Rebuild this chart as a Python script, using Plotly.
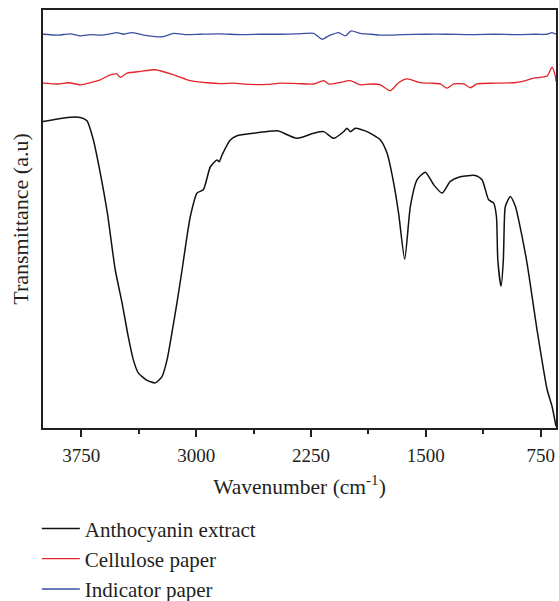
import plotly.graph_objects as go

# Anthocyanin extract (black)
wn_extract = [4000, 3841, 3756, 3713, 3671, 3626, 3580, 3528, 3484, 3443, 3410, 3378, 3321, 3267,
              3223, 3190, 3158, 3125, 3092, 3060, 3038, 2994, 2953, 2907, 2864, 2849, 2831, 2777,
              2733, 2627, 2472, 2450, 2341, 2233, 2167, 2102, 2037, 2015, 1993, 1960, 1884, 1797,
              1753, 1710, 1678, 1638, 1601, 1557, 1503, 1449, 1394, 1340, 1275, 1177, 1133, 1090,
              1057, 1039, 1030, 1009, 994, 987, 981, 948, 915, 894, 839, 774, 708, 676, 650]
t_extract = [73.3, 74.3, 74.3, 73.5, 68.9, 61.0, 51.5, 37.8, 30.0, 21.8, 16.3, 13.2, 11.4, 10.8,
             12.3, 16.3, 22.8, 30.0, 37.8, 45.8, 50.6, 56.2, 57.0, 62.5, 64.1, 63.7, 65.3, 68.9,
             69.9, 70.5, 71.1, 70.9, 69.3, 70.5, 70.9, 69.3, 70.9, 71.7, 70.9, 71.7, 70.9, 68.9,
             65.7, 58.6, 51.4, 40.4, 53.0, 59.4, 61.2, 58.2, 56.2, 59.0, 60.1, 60.4, 59.4, 54.6,
             53.8, 50.6, 40.2, 33.9, 40.2, 49.8, 53.0, 55.4, 53.0, 49.8, 39.4, 23.5, 9.2, 5.2, 0.4]

# Cellulose paper (red)
wn_cellulose = [4000, 3900, 3830, 3756, 3690, 3626, 3560, 3517, 3495, 3451, 3363, 3267, 3147, 3038,
                2929, 2840, 2757, 2650, 2537, 2450, 2340, 2233, 2167, 2135, 2069, 1993, 1928, 1860,
                1797, 1732, 1678, 1623, 1536, 1470, 1405, 1362, 1318, 1253, 1209, 1166, 1050, 927,
                860, 796, 708, 676, 654, 650]
t_cellulose = [82.5, 82.3, 82.6, 82.1, 82.6, 83.3, 84.5, 84.7, 83.9, 84.9, 85.3, 85.7, 84.5, 83.1,
               82.6, 82.4, 82.5, 82.2, 82.2, 82.5, 82.4, 82.3, 83.1, 82.3, 82.6, 83.1, 82.1, 82.3,
               82.1, 80.7, 82.6, 83.5, 82.6, 82.5, 82.3, 81.3, 82.3, 82.3, 81.4, 82.3, 82.5, 82.6,
               83.0, 83.7, 84.2, 86.3, 84.1, 82.9]

# Indicator paper (blue)
wn_indicator = [4000, 3900, 3820, 3756, 3690, 3626, 3560, 3517, 3474, 3419, 3343, 3223, 3147, 3060,
                2973, 2850, 2700, 2580, 2450, 2340, 2233, 2178, 2124, 2069, 2026, 1988, 1928, 1860,
                1797, 1650, 1500, 1362, 1200, 1050, 900, 780, 708, 676, 650]
t_indicator = [94.2, 94.0, 94.3, 93.8, 94.1, 94.0, 94.3, 94.6, 94.2, 94.6, 94.0, 93.6, 94.4, 94.1,
               94.2, 94.3, 94.1, 94.2, 94.2, 94.3, 94.4, 93.0, 94.0, 94.6, 93.8, 95.0, 94.4, 94.2,
               94.0, 94.1, 94.2, 94.2, 94.1, 94.2, 94.1, 94.2, 94.2, 94.6, 94.2]

series_names = ["Anthocyanin extract", "Cellulose paper", "Indicator paper"]
series_colors = ["#111111", "#e3242b", "#3b50a0"]

major_ticks = [3750, 3000, 2250, 1500, 750]
minor_ticks = [3375, 2625, 1875, 1125]

FONT = "Liberation Serif, Times New Roman, serif"
TXT = "#231f20"

fig = go.Figure()
for i, (x, y) in enumerate([(wn_extract, t_extract), (wn_cellulose, t_cellulose),
                            (wn_indicator, t_indicator)]):
    fig.add_trace(go.Scatter(
        x=x, y=y, mode="lines", name=series_names[i], legendgroup=f"g{i}",
        line=dict(color=series_colors[i], width=1.5 if i == 0 else 1.3, shape="spline", smoothing=0.6),
    ))

fig.update_layout(
    width=559, height=601,
    margin=dict(l=43, r=3, t=10, b=173, autoexpand=False),
    paper_bgcolor="white", plot_bgcolor="white",
    font=dict(family=FONT, size=21, color=TXT),
    showlegend=True,
    legend=dict(x=-0.012, y=-0.192, xanchor="left", yanchor="top",
                traceorder="grouped", tracegroupgap=0, itemwidth=38,
                font=dict(family=FONT, size=21, color=TXT),
                bgcolor="rgba(0,0,0,0)"),
    xaxis=dict(
        range=[4000, 650], autorange=False, automargin=False,
        tickmode="array", tickvals=major_ticks, ticktext=[str(v) for v in major_ticks],
        ticks="outside", ticklen=7, tickwidth=1.5, tickcolor=TXT,
        ticklabelstandoff=2,
        minor=dict(tickvals=minor_ticks, ticks="outside", ticklen=4, tickwidth=1.5, tickcolor=TXT),
        showline=True, linewidth=1.5, linecolor=TXT, mirror=True,
        showgrid=False, zeroline=False,
        tickfont=dict(family=FONT, size=19, color=TXT),
        title=dict(text="Wavenumber (cm<sup>-1</sup>)", standoff=14,
                   font=dict(family=FONT, size=21.5, color=TXT)),
    ),
    yaxis=dict(
        range=[0, 100], autorange=False, automargin=False,
        showticklabels=False, ticks="",
        showline=True, linewidth=1.5, linecolor=TXT, mirror=True,
        showgrid=False, zeroline=False,
        title=dict(text="Transmittance (a.u)", standoff=7,
                   font=dict(family=FONT, size=22, color=TXT)),
    ),
)

fig.write_html("out.html", config={"displayModeBar": False},
               post_script="document.body.style.margin='0';document.body.style.overflow='hidden';")
